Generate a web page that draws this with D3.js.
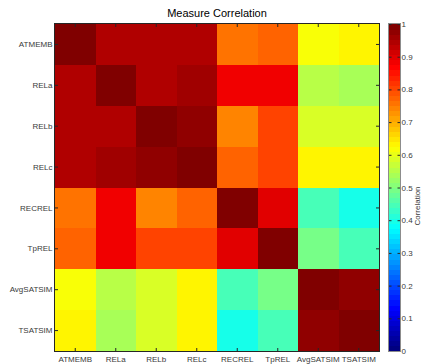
<!DOCTYPE html>
<html>
<head>
<meta charset="utf-8">
<script src="https://cdn.jsdelivr.net/npm/d3@7"></script>
<style>
  html, body { margin: 0; padding: 0; background: #fff; }
  svg { display: block; font-family: "Liberation Sans", Arial, Helvetica, sans-serif; }
</style>
</head>
<body>
<svg id="chart" width="425" height="364"></svg>
<script>
// Measures compared against each other
const measures = ["ATMEMB", "RELa", "RELb", "RELc", "RECREL", "TpREL", "AvgSATSIM", "TSATSIM"];

// Correlation matrix rows (one array per measure, same order as columns)
const rowATMEMB    = [1.00, 0.953, 0.953, 0.953, 0.75, 0.78, 0.61, 0.64];
const rowRELa      = [0.953, 1.00, 0.953, 0.968, 0.875, 0.89, 0.55, 0.54];
const rowRELb      = [0.953, 0.953, 1.00, 0.984, 0.735, 0.80, 0.59, 0.59];
const rowRELc      = [0.953, 0.968, 0.984, 1.00, 0.78, 0.80, 0.625, 0.64];
const rowRECREL    = [0.75, 0.875, 0.735, 0.78, 1.00, 0.905, 0.453, 0.406];
const rowTpREL     = [0.78, 0.89, 0.80, 0.80, 0.905, 1.00, 0.485, 0.453];
const rowAvgSATSIM = [0.61, 0.55, 0.59, 0.625, 0.453, 0.485, 1.00, 0.976];
const rowTSATSIM   = [0.64, 0.54, 0.59, 0.64, 0.406, 0.453, 0.976, 1.00];
const matrix = [rowATMEMB, rowRELa, rowRELb, rowRELc, rowRECREL, rowTpREL, rowAvgSATSIM, rowTSATSIM];

// Colour bar ticks
const colorbarTicks = [0, 0.1, 0.2, 0.3, 0.4, 0.5, 0.6, 0.7, 0.8, 0.9, 1];

const svg = d3.select("#chart");
const plot = { left: 55, right: 379, top: 24, bottom: 351 };
const bar = { left: 389, right: 400, top: 24, bottom: 351 };
const fontFamily = '"Liberation Sans", Arial, Helvetica, sans-serif';
const textColor = "#3a3a3a";
const tickColor = "#262626";

// Jet colormap, 64 discrete levels
const N = 64;
const clamp = v => Math.max(0, Math.min(1, v));
function jetAt(x) {
  const r = clamp(1.5 - Math.abs(4 * x - 3));
  const g = clamp(1.5 - Math.abs(4 * x - 2));
  const b = clamp(1.5 - Math.abs(4 * x - 1));
  return d3.rgb(r * 255, g * 255, b * 255).toString();
}
const jetLevels = d3.range(N).map(i => jetAt(i / (N - 1)));
const color = d3.scaleQuantize().domain([0, 1]).range(jetLevels);

const x = d3.scaleBand().domain(measures).range([plot.left, plot.right]);
const y = d3.scaleBand().domain(measures).range([plot.top, plot.bottom]);

// Heatmap cells
const cells = [];
matrix.forEach((row, i) => row.forEach((v, j) => cells.push({ r: measures[i], c: measures[j], v })));
svg.append("g").selectAll("rect").data(cells).join("rect")
  .attr("x", d => x(d.c))
  .attr("y", d => y(d.r))
  .attr("width", x.bandwidth() + 0.5)
  .attr("height", y.bandwidth() + 0.5)
  .attr("fill", d => color(d.v))
  .attr("shape-rendering", "crispEdges");

// Axes: ticks point inward on every side, labels only left and bottom
function styleAxis(g, showLabels) {
  g.attr("font-family", fontFamily).attr("font-size", 8);
  g.select(".domain").remove();
  g.selectAll(".tick line").attr("stroke", tickColor).attr("stroke-width", 1);
  g.selectAll(".tick text").attr("fill", textColor);
  if (!showLabels) g.selectAll(".tick text").remove();
}
svg.append("g").attr("transform", `translate(0,${plot.bottom})`)
  .call(d3.axisBottom(x).tickSize(-3))
  .call(g => styleAxis(g, true))
  .call(g => g.selectAll(".tick text").attr("y", 5).attr("dy", "0.71em"));
svg.append("g").attr("transform", `translate(0,${plot.top})`)
  .call(d3.axisTop(x).tickSize(-3))
  .call(g => styleAxis(g, false));
svg.append("g").attr("transform", `translate(${plot.left},0)`)
  .call(d3.axisLeft(y).tickSize(-3))
  .call(g => styleAxis(g, true))
  .call(g => g.selectAll(".tick text").attr("x", -2.5));
svg.append("g").attr("transform", `translate(${plot.right},0)`)
  .call(d3.axisRight(y).tickSize(-3))
  .call(g => styleAxis(g, false));

// Plot frame
svg.append("rect")
  .attr("x", plot.left - 0.5).attr("y", plot.top - 0.5)
  .attr("width", plot.right - plot.left + 1).attr("height", plot.bottom - plot.top + 1)
  .attr("fill", "none").attr("stroke", tickColor).attr("stroke-width", 1);

// Title
svg.append("text")
  .attr("x", (plot.left + plot.right) / 2).attr("y", 17)
  .attr("text-anchor", "middle").attr("fill", "#000")
  .attr("font-family", fontFamily).attr("font-size", 11)
  .text("Measure Correlation");

// Colour bar
const cb = d3.scaleLinear().domain([0, 1]).range([bar.bottom, bar.top]);
const step = 1 / N;
svg.append("g").selectAll("rect").data(d3.range(N)).join("rect")
  .attr("x", bar.left)
  .attr("y", i => cb((i + 1) * step))
  .attr("width", bar.right - bar.left)
  .attr("height", i => cb(i * step) - cb((i + 1) * step) + 0.5)
  .attr("fill", i => jetLevels[i])
  .attr("shape-rendering", "crispEdges");

svg.append("g").attr("transform", `translate(${bar.right},0)`)
  .call(d3.axisRight(cb).tickValues(colorbarTicks).tickFormat(d3.format("")).tickSize(-2.5))
  .call(g => styleAxis(g, true))
  .call(g => g.selectAll(".tick text").attr("x", 1.5));
svg.append("g").attr("transform", `translate(${bar.left},0)`)
  .call(d3.axisLeft(cb).tickValues(colorbarTicks).tickSize(-2.5))
  .call(g => styleAxis(g, false));

svg.append("rect")
  .attr("x", bar.left - 0.5).attr("y", bar.top - 0.5)
  .attr("width", bar.right - bar.left + 1).attr("height", bar.bottom - bar.top + 1)
  .attr("fill", "none").attr("stroke", "#8c8c8c").attr("stroke-width", 1);

// Colour bar label
svg.append("text")
  .attr("transform", "translate(420,206) rotate(-90)")
  .attr("text-anchor", "middle").attr("fill", textColor)
  .attr("font-family", fontFamily).attr("font-size", 8)
  .text("Correlation");
</script>
</body>
</html>
